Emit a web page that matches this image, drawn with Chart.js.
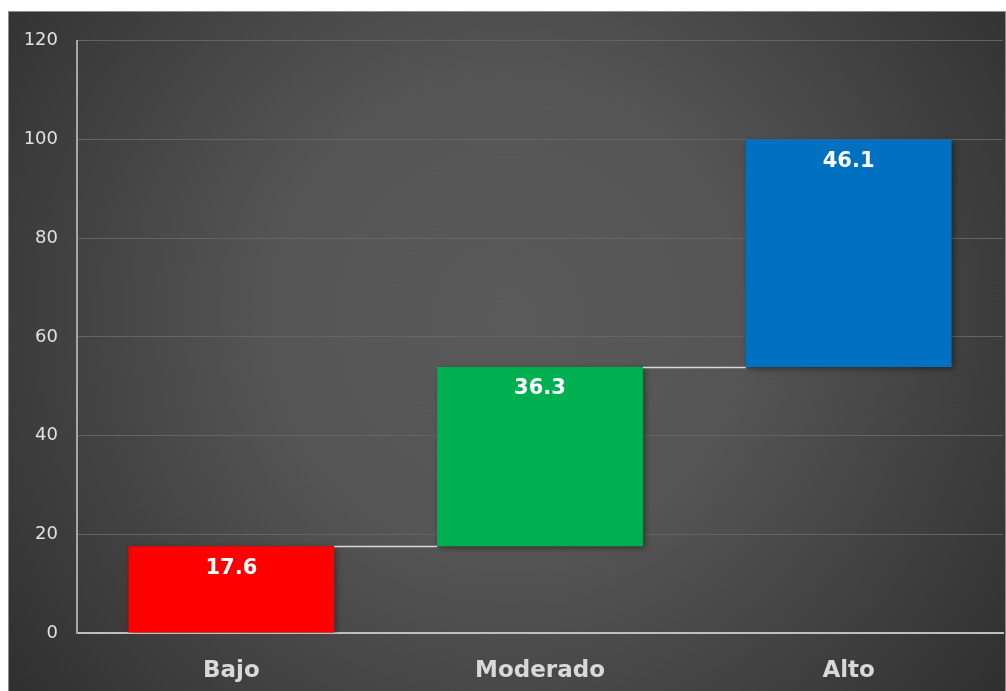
<!DOCTYPE html>
<html>
<head>
<meta charset="utf-8">
<script src="https://cdn.jsdelivr.net/npm/chart.js@4"></script>
<style>
    html, body { margin: 0; padding: 0; background: #ffffff; }
    #wrap { position: absolute; left: 8px; top: 11px; width: 998px; height: 680px; }
</style>
</head>
<body>
<div id="wrap"><canvas id="waterfall"></canvas></div>
<script>
const categories = ['Bajo', 'Moderado', 'Alto'];
const steps = [17.6, 36.3, 46.1];
const barColors = ['#ff0000', '#00b050', '#0070c0'];
const yTicks = [0, 20, 40, 60, 80, 100, 120];

// floating segments: each step starts where the previous one ended
const segments = [];
let running = 0;
steps.forEach(v => {
    segments.push([running, +(running + v).toFixed(1)]);
    running += v;
});

const background = {
    id: 'background',
    beforeDraw(chart) {
        const { ctx, width, height } = chart;
        const g = ctx.createRadialGradient(width * 0.5, height * 0.45, 0, width * 0.5, height * 0.45, width * 0.68);
        g.addColorStop(0, '#5a5a5a');
        g.addColorStop(0.35, '#555555');
        g.addColorStop(1, '#2a2a2a');
        ctx.save();
        ctx.fillStyle = g;
        ctx.fillRect(0, 0, width, height);
        ctx.strokeStyle = '#8c8c8c';
        ctx.lineWidth = 1;
        ctx.strokeRect(0.5, 0.5, width - 1, height);
        ctx.restore();
    }
};

const barShadow = {
    id: 'barShadow',
    beforeDatasetsDraw(chart) {
        const ctx = chart.ctx;
        ctx.save();
        ctx.shadowColor = 'rgba(0,0,0,0.4)';
        ctx.shadowBlur = 6;
        ctx.shadowOffsetX = 2;
        ctx.shadowOffsetY = 2;
    },
    afterDatasetsDraw(chart) {
        chart.ctx.restore();
    }
};

// connector lines between bars and the value labels
const connectors = {
    id: 'connectors',
    afterDatasetsDraw(chart) {
        const { ctx } = chart;
        const y = chart.scales.y;
        const bars = chart.getDatasetMeta(0).data;
        ctx.save();
        ctx.strokeStyle = '#d9d9d9';
        ctx.lineWidth = 1.5;
        for (let i = 0; i < bars.length - 1; i++) {
            const a = bars[i], b = bars[i + 1];
            const py = Math.round(y.getPixelForValue(segments[i][1])) + 0.5;
            ctx.beginPath();
            ctx.moveTo(a.x + a.width / 2, py);
            ctx.lineTo(b.x - b.width / 2, py);
            ctx.stroke();
        }
        ctx.fillStyle = '#ffffff';
        ctx.font = 'bold 21px "DejaVu Sans"';
        ctx.textAlign = 'center';
        ctx.textBaseline = 'middle';
        bars.forEach((bar, i) => {
            const top = y.getPixelForValue(segments[i][1]);
            ctx.fillText(steps[i].toFixed(1), bar.x, top + 22);
        });
        ctx.restore();
    }
};

new Chart(document.getElementById('waterfall'), {
    type: 'bar',
    data: {
        labels: categories,
        datasets: [{
            data: segments,
            backgroundColor: barColors,
            borderWidth: 0,
            categoryPercentage: 1,
            barPercentage: 0.667
        }]
    },
    options: {
        responsive: true,
        maintainAspectRatio: false,
        animation: false,
        layout: { padding: { top: 29, right: 3, left: 0, bottom: 0 } },
        plugins: {
            legend: { display: false },
            tooltip: { enabled: false }
        },
        scales: {
            x: {
                grid: { display: false, drawTicks: false },
                border: { color: '#bfbfbf', width: 2 },
                ticks: {
                    color: '#d9d9d9',
                    padding: 24,
                    font: { family: 'DejaVu Sans', size: 23, weight: 'bold' }
                },
                afterFit(scale) { scale.height = 58; }
            },
            y: {
                min: 0,
                max: 120,
                afterBuildTicks(scale) { scale.ticks = yTicks.map(v => ({ value: v })); },
                grid: { color: '#646464', lineWidth: 1, drawTicks: false },
                border: { color: '#a6a6a6', width: 2 },
                ticks: {
                    color: '#e0e0e0',
                    padding: 19,
                    font: { family: 'DejaVu Sans', size: 18 }
                },
                afterFit(scale) { scale.width = 69; }
            }
        }
    },
    plugins: [background, barShadow, connectors]
});
</script>
</body>
</html>
